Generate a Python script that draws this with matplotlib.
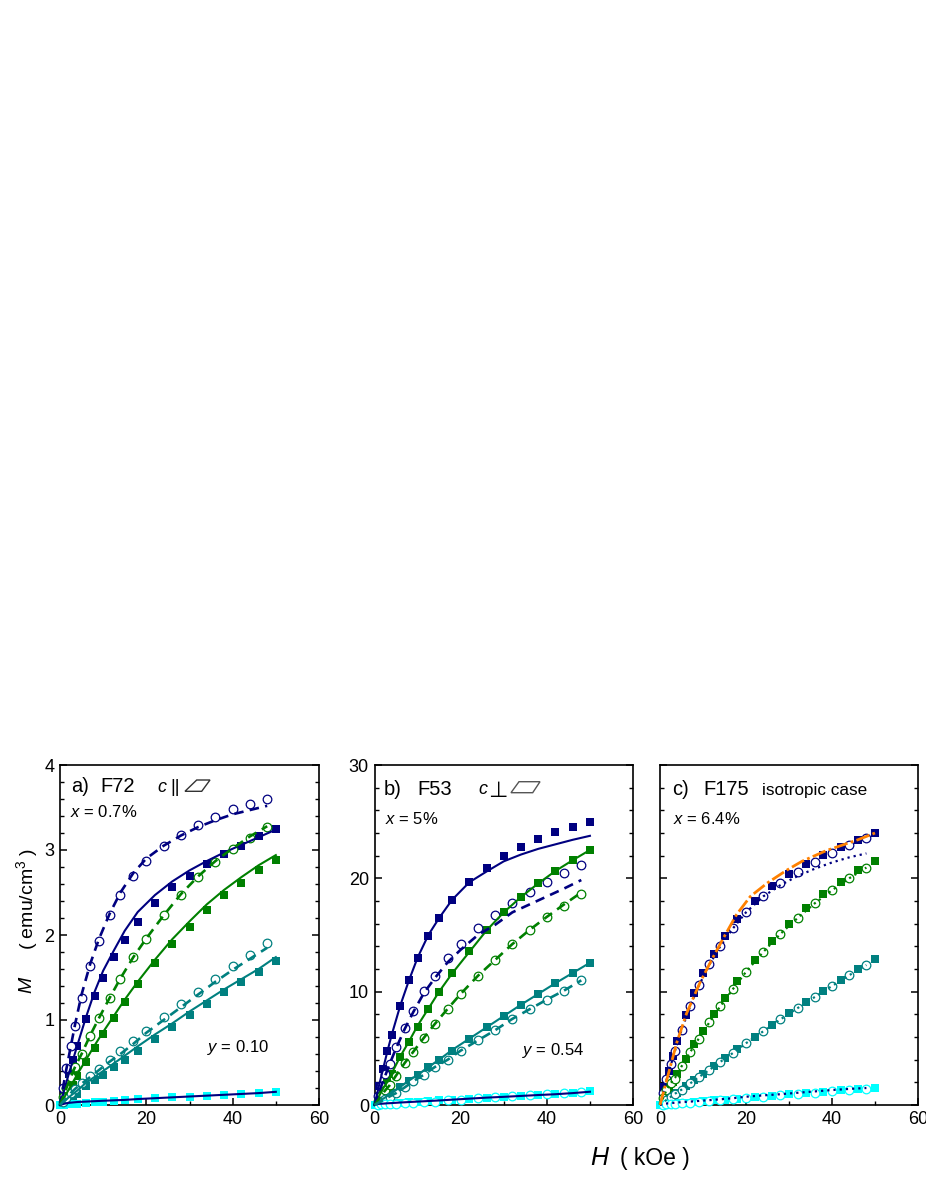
import matplotlib
matplotlib.use("Agg")
import matplotlib.pyplot as plt
from matplotlib.patches import Polygon

W, H_PX = 926, 1199
plt.rcParams['font.family'] = ['Liberation Sans', 'DejaVu Sans']
plt.rcParams['mathtext.fontset'] = 'custom'
plt.rcParams['mathtext.rm'] = 'Liberation Sans'
plt.rcParams['mathtext.it'] = 'Liberation Sans:italic'

NAVY, GREEN, TEAL, CYAN = '#000080', '#008000', '#008080', '#00FFFF'
ORANGE = '#FF8000'

# field values of the two sets of points, and of the curves that go with them
H_sq = [0, 1, 2, 3, 4, 6, 8, 10, 12.5, 15, 18, 22, 26, 30, 34, 38, 42, 46, 50]
H_circ = [0.7, 1.5, 2.5, 3.5, 5, 7, 9, 11.5, 14, 17, 20, 24, 28, 32, 36, 40, 44, 48]
H_dash = [0] + H_circ

# panel a
a_sq_navy = [0, .18, .37, .53, .70, 1.01, 1.28, 1.49, 1.74, 1.94, 2.15, 2.38, 2.56, 2.69, 2.83, 2.95, 3.05, 3.16, 3.25]
a_sq_green = [0, .08, .16, .24, .345, .51, .67, .835, 1.02, 1.21, 1.42, 1.67, 1.89, 2.10, 2.29, 2.47, 2.61, 2.76, 2.88]
a_sq_teal = [0, .03, .07, .10, .135, .22, .29, .35, .45, .53, .635, .78, .92, 1.055, 1.185, 1.325, 1.45, 1.57, 1.69]
a_sq_cyan = [0, .005, .01, .012, .015, .02, .03, .035, .045, .055, .065, .08, .09, .10, .11, .12, .13, .145, .157]
a_circ_navy = [.2, .43, .69, .93, 1.26, 1.63, 1.93, 2.23, 2.47, 2.70, 2.87, 3.05, 3.18, 3.29, 3.39, 3.48, 3.54, 3.60]
a_circ_green = [.09, .2, .33, .45, .6, .815, 1.02, 1.26, 1.48, 1.74, 1.95, 2.23, 2.47, 2.68, 2.855, 3.01, 3.145, 3.27]
a_circ_teal = [.04, .08, .14, .19, .26, .345, .425, .525, .63, .755, .87, 1.03, 1.185, 1.33, 1.485, 1.63, 1.77, 1.91]
a_solid_navy = [0, .18, .36, .53, .70, 1.03, 1.33, 1.58, 1.82, 2.05, 2.27, 2.47, 2.63, 2.76, 2.87, 2.97, 3.06, 3.15, 3.24]
a_solid_green = [0, .09, .18, .27, .36, .53, .70, .86, 1.05, 1.24, 1.45, 1.71, 1.95, 2.16, 2.36, 2.53, 2.68, 2.82, 2.94]
a_solid_teal = [0, .04, .09, .13, .17, .26, .33, .40, .49, .58, .69, .83, .96, 1.10, 1.23, 1.36, 1.48, 1.60, 1.74]
a_solid_low = [0, .015, .025, .03, .035, .04, .045, .05, .055, .06, .07, .08, .09, .10, .11, .12, .13, .14, .155]
a_dash_navy = [0, .2, .43, .69, .95, 1.3, 1.66, 1.95, 2.25, 2.5, 2.73, 2.9, 3.05, 3.17, 3.27, 3.35, 3.42, 3.47, 3.52]
a_dash_green = [0, .09, .2, .33, .45, .6, .82, 1.02, 1.26, 1.49, 1.74, 1.96, 2.23, 2.48, 2.69, 2.87, 3.02, 3.16, 3.28]
a_dash_teal = [0, .04, .08, .14, .19, .25, .33, .41, .51, .6, .72, .85, 1.0, 1.15, 1.3, 1.45, 1.59, 1.72, 1.85]

# panel b
b_sq_navy = [0, 1.65, 3.18, 4.73, 6.15, 8.76, 11.0, 12.95, 14.95, 16.5, 18.1, 19.65, 20.9, 21.95, 22.75, 23.45, 24.05, 24.55, 25.0]
b_sq_green = [0, .75, 1.45, 2.1, 2.76, 4.24, 5.6, 6.9, 8.5, 9.97, 11.65, 13.56, 15.4, 17.0, 18.35, 19.55, 20.65, 21.6, 22.5]
b_sq_teal = [0, .3, .55, .8, 1.05, 1.6, 2.15, 2.62, 3.32, 3.97, 4.8, 5.85, 6.85, 7.85, 8.85, 9.8, 10.74, 11.65, 12.53]
b_sq_cyan = [0, .05, .08, .11, .14, .19, .24, .28, .34, .40, .47, .56, .65, .74, .83, .92, 1.01, 1.10, 1.2]
b_circ_navy = [.8, 1.7, 2.7, 3.6, 5.1, 6.8, 8.3, 10.05, 11.4, 13.0, 14.2, 15.65, 16.8, 17.85, 18.8, 19.65, 20.5, 21.2]
b_circ_green = [.35, .8, 1.3, 1.73, 2.6, 3.68, 4.7, 5.95, 7.15, 8.5, 9.8, 11.4, 12.8, 14.2, 15.45, 16.6, 17.6, 18.6]
b_circ_teal = [.15, .32, .55, .75, 1.05, 1.55, 2.1, 2.68, 3.35, 4.0, 4.8, 5.7, 6.6, 7.6, 8.45, 9.3, 10.1, 11.0]
b_circ_cyan = [.03, .05, .07, .08, .1, .15, .2, .25, .3, .4, .45, .6, .72, .8, .88, .97, 1.05, 1.17]
b_solid_navy = [0, 1.65, 3.2, 4.75, 6.2, 8.8, 11.0, 13.0, 15.0, 16.5, 18.1, 19.65, 20.6, 21.5, 22.1, 22.6, 23.0, 23.4, 23.75]
b_solid_green = [0, .75, 1.45, 2.1, 2.8, 4.3, 5.6, 7.0, 8.5, 10.0, 11.6, 13.5, 15.4, 17.0, 18.35, 19.55, 20.65, 21.6, 22.5]
b_solid_teal = [0, .3, .55, .8, 1.05, 1.6, 2.15, 2.65, 3.35, 4.0, 4.85, 5.85, 6.85, 7.85, 8.85, 9.8, 10.75, 11.65, 12.55]
b_solid_low = [0, .1, .12, .15, .17, .22, .26, .3, .35, .4, .47, .56, .65, .72, .8, .88, .95, 1.05, 1.17]
b_dash_navy = [0, .8, 1.6, 2.6, 3.6, 5.0, 6.7, 8.2, 9.9, 11.2, 12.6, 13.7, 15.0, 15.9, 17.0, 17.7, 18.4, 19.1, 19.85]
b_dash_green = [0, .35, .8, 1.3, 1.73, 2.6, 3.7, 4.7, 5.95, 7.15, 8.5, 9.8, 11.4, 12.8, 14.2, 15.45, 16.6, 17.7, 18.75]
b_dash_teal = [0, .15, .32, .55, .75, 1.05, 1.55, 2.1, 2.68, 3.35, 4.0, 4.8, 5.7, 6.6, 7.6, 8.45, 9.3, 10.1, 11.0]

# panel c
c_sq_navy = [0, 1.6, 3.0, 4.3, 5.65, 7.9, 9.9, 11.65, 13.3, 14.9, 16.4, 18.0, 19.3, 20.4, 21.3, 22.1, 22.76, 23.4, 23.97]
c_sq_green = [0, .7, 1.4, 2.05, 2.7, 4.1, 5.35, 6.53, 8.03, 9.4, 10.95, 12.8, 14.5, 16.0, 17.35, 18.6, 19.65, 20.7, 21.55]
c_sq_teal = [0, .3, .55, .85, 1.1, 1.65, 2.18, 2.76, 3.4, 4.15, 4.95, 6.0, 7.05, 8.1, 9.1, 10.05, 11.03, 11.97, 12.9]
c_sq_cyan = [0, .04, .07, .10, .14, .20, .26, .32, .40, .47, .56, .68, .80, .93, 1.05, 1.17, 1.28, 1.40, 1.5]
c_circ_navy = [1.1, 2.3, 3.6, 4.8, 6.6, 8.7, 10.55, 12.45, 14.05, 15.65, 17.0, 18.45, 19.6, 20.6, 21.45, 22.2, 22.9, 23.55]
c_circ_green = [.6, 1.3, 1.95, 2.3, 3.4, 4.65, 5.85, 7.3, 8.7, 10.25, 11.75, 13.5, 15.1, 16.5, 17.8, 18.95, 20.0, 20.95]
c_circ_teal = [.2, .45, .72, 1.0, 1.35, 1.9, 2.45, 3.1, 3.8, 4.6, 5.45, 6.5, 7.55, 8.55, 9.53, 10.5, 11.45, 12.35]
c_circ_cyan = [.03, .05, .08, .11, .15, .20, .27, .35, .42, .50, .60, .73, .85, .95, 1.08, 1.20, 1.32, 1.45]
c_dot_navy = [0, 1.0, 2.2, 3.5, 4.8, 6.6, 8.7, 10.5, 12.4, 14.0, 15.6, 17.0, 18.4, 19.4, 20.2, 20.85, 21.4, 21.85, 22.2]
c_dot_green = [0, .6, 1.3, 1.95, 2.4, 3.4, 4.65, 5.85, 7.3, 8.7, 10.25, 11.75, 13.5, 15.1, 16.5, 17.8, 18.95, 20.0, 20.95]
c_dot_teal = [0, .2, .45, .72, 1.0, 1.35, 1.9, 2.45, 3.1, 3.8, 4.6, 5.45, 6.5, 7.55, 8.55, 9.53, 10.5, 11.45, 12.35]
c_dot_low = [0, .1, .13, .17, .2, .25, .3, .36, .43, .5, .6, .73, .85, .95, 1.08, 1.2, 1.32, 1.42, 1.5]
H_orange = [0, 3.9, 6.2, 9.3, 12, 14.7, 17.8, 21, 25, 29.4, 33, 38.7, 46, 50]
c_orange = [0, 5.5, 8.1, 10.8, 12.8, 14.7, 16.8, 18.4, 19.6, 20.7, 21.5, 22.45, 23.4, 24.0]


def px_ax(fig, left, right, top, bottom):
    return fig.add_axes([left / W, 1 - bottom / H_PX, (right - left) / W, (bottom - top) / H_PX])


def label(fig, x, y, s, size=12, **kw):
    fig.text(x / W, 1 - y / H_PX, s, fontsize=size, va=kw.pop('va', 'baseline'), **kw)


def shape(fig, pts, color='#333333', lw=1.0):
    xy = [(x / W, 1 - y / H_PX) for x, y in pts]
    fig.add_artist(Polygon(xy, closed=True, fill=False, ec=color, lw=lw, transform=fig.transFigure))


def squares(ax, m, color):
    ax.plot(H_sq, m, 's', color=color, ms=5.2, mew=0, clip_on=False, zorder=3)


def circles(ax, m, color):
    ax.plot(H_circ, m, 'o', mfc='white', mec=color, ms=6.2, mew=0.9, clip_on=False, zorder=4)


def solid(ax, m, color):
    ax.plot(H_sq, m, '-', color=color, lw=1.5, clip_on=False, zorder=5)


def dashed(ax, m, color):
    ax.plot(H_dash, m, color=color, lw=1.9, ls=(0, (3.6, 2.4)), clip_on=False, zorder=5)


def dotted(ax, x, m, color):
    ax.plot(x, m, color=color, lw=1.6, ls=(0, (1, 1.8)), clip_on=False, zorder=5)


def setup(ax, ymax, ymajor, yminor, ylabels=True):
    ax.set_xlim(0, 60)
    ax.set_ylim(0, ymax)
    ax.set_xticks([0, 20, 40, 60])
    ax.set_xticks([10, 30, 50], minor=True)
    ax.set_yticks([i * ymajor for i in range(int(ymax / ymajor) + 1)])
    n = int(round(ymax / yminor))
    ax.set_yticks([i * yminor for i in range(n + 1)], minor=True)
    ax.tick_params(which='major', direction='in', length=5, width=1.1, labelsize=13, right=True, pad=4)
    ax.tick_params(which='minor', direction='in', length=2.8, width=1.0, right=True)
    if not ylabels:
        ax.set_yticklabels([])
    for s in ax.spines.values():
        s.set_linewidth(1.2)


fig = plt.figure(figsize=(W / 100, H_PX / 100), dpi=100)

# a) F72
ax = px_ax(fig, 60, 319, 765, 1105)
setup(ax, 4, 1, 0.2)
for m, c in [(a_sq_navy, NAVY), (a_sq_green, GREEN), (a_sq_teal, TEAL), (a_sq_cyan, CYAN)]:
    squares(ax, m, c)
for m, c in [(a_circ_navy, NAVY), (a_circ_green, GREEN), (a_circ_teal, TEAL)]:
    circles(ax, m, c)
for m, c in [(a_solid_navy, NAVY), (a_solid_green, GREEN), (a_solid_teal, TEAL), (a_solid_low, NAVY)]:
    solid(ax, m, c)
for m, c in [(a_dash_navy, NAVY), (a_dash_green, GREEN), (a_dash_teal, TEAL)]:
    dashed(ax, m, c)

# b) F53
ax = px_ax(fig, 374.5, 633, 765, 1105)
setup(ax, 30, 10, 2)
for m, c in [(b_sq_navy, NAVY), (b_sq_green, GREEN), (b_sq_teal, TEAL), (b_sq_cyan, CYAN)]:
    squares(ax, m, c)
for m, c in [(b_circ_navy, NAVY), (b_circ_green, GREEN), (b_circ_teal, TEAL), (b_circ_cyan, CYAN)]:
    circles(ax, m, c)
for m, c in [(b_solid_navy, NAVY), (b_solid_green, GREEN), (b_solid_teal, TEAL), (b_solid_low, NAVY)]:
    solid(ax, m, c)
for m, c in [(b_dash_navy, NAVY), (b_dash_green, GREEN), (b_dash_teal, TEAL)]:
    dashed(ax, m, c)

# c) F175
ax = px_ax(fig, 660, 918, 765, 1105)
setup(ax, 30, 10, 2, ylabels=False)
for m, c in [(c_sq_navy, NAVY), (c_sq_green, GREEN), (c_sq_teal, TEAL), (c_sq_cyan, CYAN)]:
    squares(ax, m, c)
for m, c in [(c_circ_navy, NAVY), (c_circ_green, GREEN), (c_circ_teal, TEAL), (c_circ_cyan, CYAN)]:
    circles(ax, m, c)
for m, c in [(c_dot_navy, NAVY), (c_dot_green, GREEN), (c_dot_teal, TEAL), (c_dot_low, NAVY)]:
    dotted(ax, H_dash, m, c)
ax.plot(H_orange, c_orange, color=ORANGE, lw=2.0, ls=(0, (5, 1.2, 1, 1.2)), clip_on=False, zorder=6)

# panel texts
label(fig, 71, 792.5, 'a)', 14.5)
label(fig, 100, 792.5, 'F72', 14.5)
label(fig, 157, 792, 'c', 13, style='italic')
label(fig, 170, 792, '||', 13)
shape(fig, [(185, 791.3), (196.7, 780), (210, 780), (201.7, 791.3)])
label(fig, 70, 816.7, '$x$ = 0.7%', 12)
label(fig, 207, 1051.7, '$y$ = 0.10', 12)

label(fig, 384, 795, 'b)', 14.5)
label(fig, 417, 795, 'F53', 14.5)
label(fig, 478, 794, 'c', 13, style='italic')
label(fig, 488, 797, '⊥', 16, family='DejaVu Sans')
shape(fig, [(511, 792.7), (519, 781.7), (540, 781.7), (532.7, 792.7)], color='#555555')
label(fig, 385, 824, '$x$ = 5%', 12)
label(fig, 522.5, 1055, '$y$ = 0.54', 12)

label(fig, 672, 795, 'c)', 14.5)
label(fig, 703, 795, 'F175', 14.5)
label(fig, 762, 795, 'isotropic case', 12.3)
label(fig, 673, 824, '$x$ = 6.4%', 12)

# axis titles
label(fig, 590, 1165, '$H$', 18)
label(fig, 620, 1165, '( kOe )', 16.5)
label(fig, 27, 985, '$M$', 14, rotation=90, ha='center', va='center')
label(fig, 27, 899, '( emu/cm$^{3}$ )', 14, rotation=90, ha='center', va='center')

fig.savefig('out.png', dpi=100)
